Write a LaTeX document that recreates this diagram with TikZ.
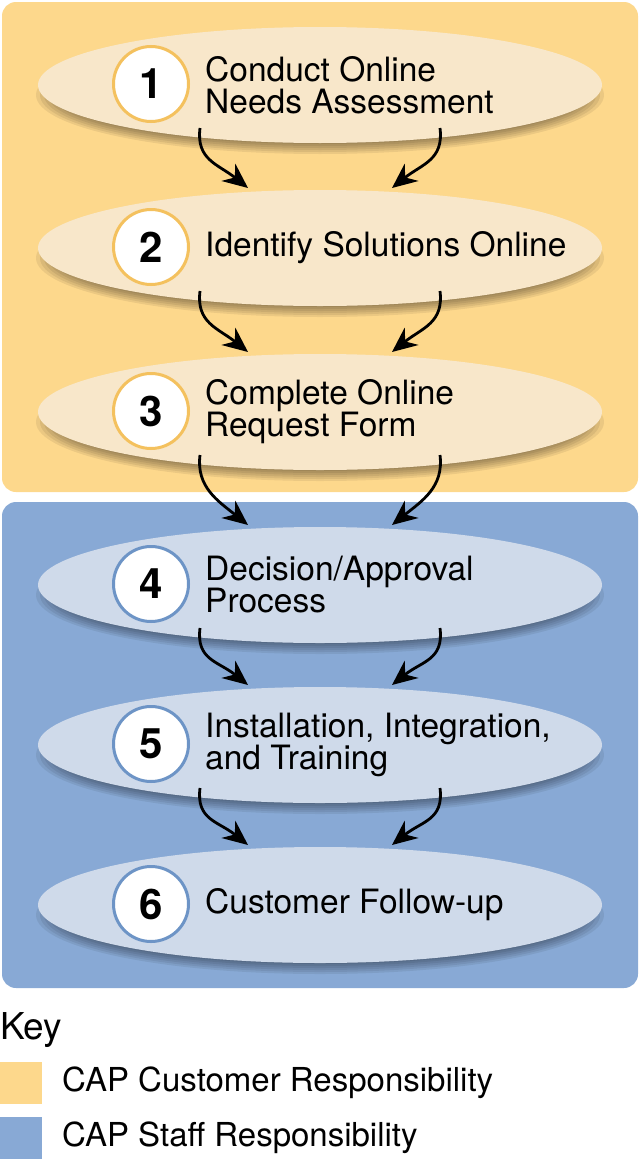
\documentclass[tikz,border=0pt]{standalone}
\usepackage{fontspec}
\setmainfont{TeX Gyre Heros}
\usetikzlibrary{shapes.geometric,arrows.meta,positioning,calc}

\definecolor{custback}{HTML}{FDD88C}
\definecolor{custstep}{HTML}{F8E7CA}
\definecolor{custring}{HTML}{F4C15E}
\definecolor{staffback}{HTML}{88A9D5}
\definecolor{staffstep}{HTML}{CFDAEA}
\definecolor{staffring}{HTML}{6D94C6}

\begin{document}
\begin{tikzpicture}[x=1pt,y=-1pt,
        panel/.style={rounded corners=14pt, draw=none},
        stepbox/.style={ellipse, minimum width=564pt, minimum height=116pt, inner sep=0pt},
        numring/.style={circle, draw, line width=3pt, fill=white, minimum size=75pt, inner sep=0pt,
          font=\fontsize{42}{42}\selectfont\bfseries},
        steptext/.style={anchor=west, align=left, inner sep=0pt, font=\fontsize{33.5}{32}\selectfont},
        flow/.style={-{Stealth[length=25pt,width=22pt]}, line width=2.8pt},
        keybox/.style={minimum size=42pt, inner sep=0pt, anchor=north west},
        keytext/.style={anchor=west, inner sep=0pt, font=\fontsize{33}{33}\selectfont}
    ]
  \useasboundingbox (0,0) rectangle (640,1159);

  % Panels
  \fill[custback, panel] (2,2) rectangle (638,492);
  \fill[staffback, panel] (2,502) rectangle (638,988);

  % Steps
  \foreach \n/\cy/\grp/\txt in {
      1/85/cust/{Conduct Online\\Needs Assessment},
      2/248/cust/{Identify Solutions Online},
      3/412/cust/{Complete Online\\Request Form},
      4/585/staff/{Decision/Approval\\Process},
      5/745/staff/{Installation, Integration,\\and Training},
      6/905/staff/{Customer Follow-up}} {
    \foreach \k in {0,...,5}
      \fill[black, opacity=0.07] (320,\cy+10) ellipse ({284-\k*4} and {59-\k*2});
    \node[stepbox, fill=\grp step] (s\n) at (320,\cy) {};
    \node[numring, draw=\grp ring] (n\n) at (151,\cy-1) {\n};
    \node[steptext] (t\n) at (205,\cy) {\txt};
  }

  % Arrows
  \foreach \n [count=\m from 2] in {1,...,5} {
    \draw[flow] ([shift={(-120,43)}]s\n.center) .. controls +(-4,32) and +(-30,-24) .. ([shift={(-72,-60)}]s\m.center);
    \draw[flow] ([shift={(120,43)}]s\n.center) .. controls +(4,32) and +(30,-24) .. ([shift={(72,-60)}]s\m.center);
  }

  % Key
  \node[anchor=west, inner sep=0pt, font=\fontsize{37}{37}\selectfont] (key) at (0,1030) {Key};
  \node[keybox, fill=custback] (kcust) at (0,1062) {};
  \node[keybox, fill=staffback] (kstaff) at (0,1117) {};
  \node[keytext] (lcust) at (62,1083) {CAP Customer Responsibility};
  \node[keytext] (lstaff) at (62,1138) {CAP Staff Responsibility};
\end{tikzpicture}
\end{document}
